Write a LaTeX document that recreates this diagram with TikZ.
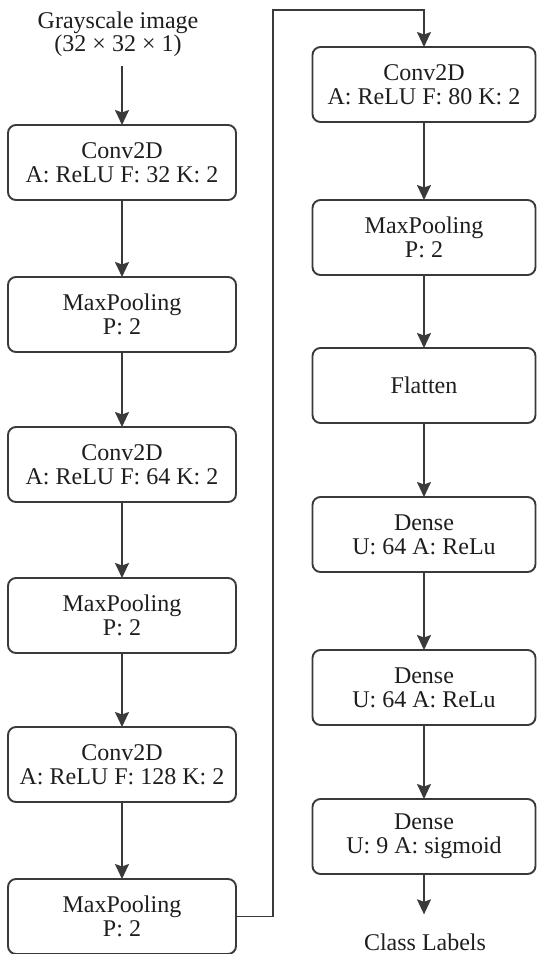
\documentclass[tikz,border=0pt]{standalone}
\usepackage{fontspec}
\setmainfont{Liberation Serif}
\usetikzlibrary{arrows.meta}
\definecolor{linec}{HTML}{3A3A3A}
\definecolor{textc}{HTML}{1E1E1E}
\begin{document}
\begin{tikzpicture}[x=1pt,y=-1pt,
  layer/.style={draw=linec, line width=1.9pt, rounded corners=8pt,
    minimum height=75pt, inner sep=0pt, outer sep=0pt, align=center,
    text=textc, font=\fontsize{24}{24}\selectfont},
  leftbox/.style={layer, minimum width=228pt},
  rightbox/.style={layer, minimum width=223pt},
  lbl/.style={inner sep=0pt, outer sep=0pt, align=center, text=textc},
  arr/.style={draw=linec, line width=1.9pt,
    -{Stealth[length=15pt,width=14pt,inset=2.5pt]}}]
\useasboundingbox (0,0) rectangle (536,954);
% input
\node[lbl, anchor=base, font=\fontsize{24}{20}\selectfont] (in) at (118,51) {Grayscale image\\(32 × 32 × 1)};
% left column
\node[leftbox] (b1) at (122,162.5) {Conv2D\\A: ReLU F: 32 K: 2};
\node[leftbox] (b2) at (122,314.5) {MaxPooling\\P: 2};
\node[leftbox] (b3) at (122,464.5) {Conv2D\\A: ReLU F: 64 K: 2};
\node[leftbox] (b4) at (122,615.5) {MaxPooling\\P: 2};
\node[leftbox] (b5) at (122,764.5) {Conv2D\\A: ReLU F: 128 K: 2};
\node[leftbox] (b6) at (122,916.5) {MaxPooling\\P: 2};
% right column
\node[rightbox] (b7) at (424,84.5) {Conv2D\\A: ReLU F: 80 K: 2};
\node[rightbox] (b8) at (424,237.5) {MaxPooling\\P: 2};
\node[rightbox] (b9) at (424,385.5) {Flatten};
\node[rightbox] (b10) at (424,534.5) {Dense\\U: 64 A: ReLu};
\node[rightbox] (b11) at (424,687.5) {Dense\\U: 64 A: ReLu};
\node[rightbox] (b12) at (424,836.5) {Dense\\U: 9 A: sigmoid};
% output
\node[lbl, anchor=base, font=\fontsize{24}{24}\selectfont] (out) at (425,950) {Class Labels};
\coordinate (turn) at (273,10);
% connectors
\draw[arr, shorten <=10pt] (b1.north |- in.south) -- (b1.north);
\draw[arr] (b1) -- (b2);
\draw[arr] (b2) -- (b3);
\draw[arr] (b3) -- (b4);
\draw[arr] (b4) -- (b5);
\draw[arr] (b5) -- (b6);
\draw[arr] (b6.east) -| (turn) -| (b7.north);
\draw[arr] (b7) -- (b8);
\draw[arr] (b8) -- (b9);
\draw[arr] (b9) -- (b10);
\draw[arr] (b10) -- (b11);
\draw[arr] (b11) -- (b12);
\draw[arr, shorten >=19pt] (b12.south) -- (b12.south |- out.north);
\end{tikzpicture}
\end{document}
